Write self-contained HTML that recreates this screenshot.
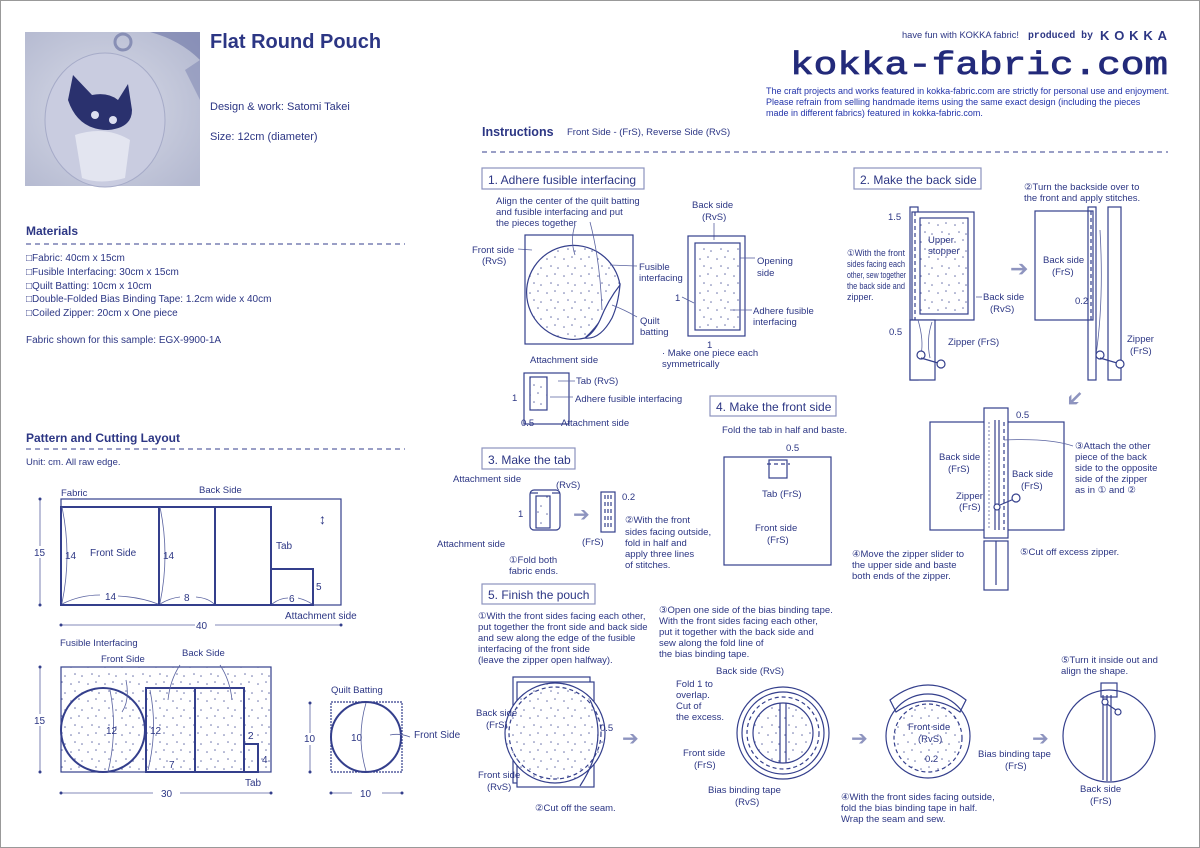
<!DOCTYPE html>
<html><head><meta charset="utf-8"><style>
html,body{margin:0;padding:0;background:#fff}
svg{display:block}
text{font-family:"Liberation Sans",sans-serif;fill:#2c3684}
.s{font-size:10px}
.m{font-size:11px}
.ln{stroke:#343f8c;fill:none;stroke-width:1.2}
.th{stroke:#343f8c;fill:none;stroke-width:2}
.lt{stroke:#5a63a0;fill:none;stroke-width:0.8}
.da{stroke:#343f8c;fill:none;stroke-width:1.2;stroke-dasharray:4 3}
.box{stroke:#8d93bd;fill:#fff;stroke-width:1.2}
.dt{fill:url(#dots)}
.wh{fill:#fff}
</style></head><body>
<svg width="1200" height="848" viewBox="0 0 1200 848" xmlns="http://www.w3.org/2000/svg">
<defs>
<pattern id="dots" width="17" height="17" patternUnits="userSpaceOnUse">
<rect width="17" height="17" fill="#fff"/><circle cx="3" cy="4" r="0.8" fill="#6a72aa"/><circle cx="11" cy="2" r="0.8" fill="#6a72aa"/><circle cx="7" cy="11" r="0.8" fill="#6a72aa"/><circle cx="14" cy="13" r="0.8" fill="#6a72aa"/>
</pattern>
<radialGradient id="ph" cx="0.45" cy="0.5" r="0.7"><stop offset="0" stop-color="#d8dbe8"/><stop offset="1" stop-color="#b4b9d0"/></radialGradient>
</defs>
<rect x="0.5" y="0.5" width="1199" height="847" fill="#fff" stroke="#999" stroke-width="1"/>

<!-- photo -->
<rect x="25" y="32" width="175" height="154" fill="url(#ph)"/>
<path d="M150 32 Q180 40 200 60 L200 32Z" fill="#6c74a6" opacity="0.6"/>
<path d="M185 70 Q195 90 200 100 L200 60Z" fill="#7a82b0" opacity="0.5"/>
<circle cx="123" cy="42" r="8" fill="none" stroke="#888fb5" stroke-width="3"/>
<ellipse cx="105" cy="120" rx="60" ry="67" fill="#c9cce0" stroke="#a6abc8"/>
<path d="M68 100 L73 75 L92 95 Q108 92 118 100 L128 84 L132 110 Q132 128 108 130 Q78 130 68 100Z" fill="#2a316e"/>
<circle cx="95" cy="115" r="4" fill="#dcdff0"/><circle cx="113" cy="120" r="4" fill="#dcdff0"/>
<path d="M75 135 Q105 125 130 140 L125 178 Q100 185 82 178Z" fill="#e3e5f0"/>

<text x="210" y="48" style="font-size:20px;font-weight:bold">Flat Round Pouch</text>
<text x="210" y="110" class="m">Design &amp; work: Satomi Takei</text>
<text x="210" y="140" class="m">Size: 12cm (diameter)</text>

<!-- header right -->
<text x="902" y="38" textLength="117" lengthAdjust="spacingAndGlyphs" style="font-size:9.5px">have fun with KOKKA fabric!</text>
<text x="1028" y="38" textLength="65" lengthAdjust="spacingAndGlyphs" style="font-size:10px;font-weight:bold;font-family:'Liberation Mono',monospace">produced by</text>
<text x="1100" y="40" textLength="67" lengthAdjust="spacing" style="font-size:13px;font-weight:bold">KOKKA</text>
<text x="790" y="74" textLength="378" lengthAdjust="spacingAndGlyphs" style="font-size:32px;font-family:'Liberation Mono',monospace;fill:#232a7a;stroke:#232a7a;stroke-width:0.8">kokka-fabric.com</text>
<text x="766" y="94" style="font-size:9px;fill:#2233aa">The craft projects and works featured in kokka-fabric.com are strictly for personal use and enjoyment.</text>
<text x="766" y="105" style="font-size:9px;fill:#2233aa">Please refrain from selling handmade items using the same exact design (including the pieces</text>
<text x="766" y="116" style="font-size:9px;fill:#2233aa">made in different fabrics) featured in kokka-fabric.com.</text>

<!-- Materials -->
<text x="26" y="235" style="font-size:12px;font-weight:bold">Materials</text>
<line x1="26" y1="244" x2="405" y2="244" stroke="#343f8c" stroke-dasharray="5 4"/>
<text x="26" y="261" class="s">□Fabric: 40cm x 15cm</text>
<text x="26" y="275" class="s">□Fusible Interfacing: 30cm x 15cm</text>
<text x="26" y="289" class="s">□Quilt Batting: 10cm x 10cm</text>
<text x="26" y="302" class="s">□Double-Folded Bias Binding Tape: 1.2cm wide x 40cm</text>
<text x="26" y="316" class="s">□Coiled Zipper: 20cm x One piece</text>
<text x="26" y="343" class="s">Fabric shown for this sample: EGX-9900-1A</text>

<text x="26" y="442" style="font-size:12px;font-weight:bold">Pattern and Cutting Layout</text>
<line x1="26" y1="449" x2="405" y2="449" stroke="#343f8c" stroke-dasharray="5 4"/>
<text x="26" y="465" style="font-size:9.5px">Unit: cm.  All raw edge.</text>

<!-- fabric layout -->
<text x="61" y="496" style="font-size:9.5px">Fabric</text>
<text x="199" y="493" style="font-size:9.5px">Back Side</text>
<rect x="61" y="499" width="280" height="106" class="ln"/>
<rect x="61" y="507" width="98" height="98" class="th"/>
<rect x="159" y="507" width="56" height="98" class="th"/>
<rect x="215" y="507" width="56" height="98" class="th"/>
<rect x="271" y="569" width="42" height="36" class="th"/>
<line x1="40" y1="499" x2="40" y2="605" class="lt"/><circle cx="40" cy="499" r="1.5" fill="#343f8c"/><circle cx="40" cy="605" r="1.5" fill="#343f8c"/>
<rect x="34" y="546" width="12" height="12" fill="#fff"/><text x="34" y="556" class="s">15</text>
<text x="65" y="559" class="s">14</text><text x="90" y="556" class="s">Front Side</text>
<text x="163" y="559" class="s">14</text>
<text x="276" y="549" class="s">Tab</text>
<text x="316" y="590" class="s">5</text>
<text x="105" y="600" class="s">14</text><text x="184" y="601" class="s">8</text><text x="289" y="602" class="s">6</text>
<text x="285" y="619" class="s">Attachment side</text>
<text x="319" y="524" style="font-size:14px">↕</text>
<path d="M62 507 Q72 555 62 603 M160 507 Q170 555 160 603 M62 604 Q80 595 100 595 M118 596 Q140 597 158 604 M160 604 Q170 598 180 597 M196 597 Q208 598 214 604 M272 604 Q280 598 288 598 M298 598 Q306 600 312 604" class="lt"/>
<line x1="61" y1="625" x2="195" y2="625" class="lt"/><line x1="215" y1="625" x2="341" y2="625" class="lt"/>
<circle cx="61" cy="625" r="1.5" fill="#343f8c"/><circle cx="341" cy="625" r="1.5" fill="#343f8c"/>
<text x="196" y="629" class="s">40</text>

<!-- fusible -->
<text x="60" y="646" style="font-size:9.5px">Fusible Interfacing</text>
<text x="101" y="662" style="font-size:9.5px">Front Side</text>
<text x="182" y="656" style="font-size:9.5px">Back Side</text>
<rect x="61" y="667" width="210" height="105" class="ln dt"/>
<circle cx="103" cy="730" r="42" class="th dt"/>
<rect x="146" y="688" width="49" height="84" class="th dt"/>
<rect x="195" y="688" width="49" height="84" class="th dt"/>
<rect x="244" y="744" width="14" height="28" class="th dt"/>
<path d="M110 690 Q118 730 108 772 M150 690 Q158 730 148 770 M126 680 Q130 700 122 712 M180 665 Q170 680 168 700 M220 665 Q230 680 232 700" class="lt"/>
<line x1="40" y1="667" x2="40" y2="772" class="lt"/><circle cx="40" cy="667" r="1.5" fill="#343f8c"/><circle cx="40" cy="772" r="1.5" fill="#343f8c"/>
<rect x="34" y="714" width="12" height="12" fill="#fff"/><text x="34" y="724" class="s">15</text>
<text x="106" y="734" class="s">12</text><text x="150" y="734" class="s">12</text>
<text x="169" y="768" class="s">7</text><text x="248" y="739" class="s">2</text><text x="262" y="763" class="s">4</text>
<text x="245" y="786" class="s">Tab</text>
<line x1="61" y1="793" x2="153" y2="793" class="lt"/><line x1="180" y1="793" x2="271" y2="793" class="lt"/>
<circle cx="61" cy="793" r="1.5" fill="#343f8c"/><circle cx="271" cy="793" r="1.5" fill="#343f8c"/>
<text x="161" y="797" class="s">30</text>

<!-- quilt batting -->
<text x="331" y="693" style="font-size:9.5px">Quilt Batting</text>
<rect x="331" y="702" width="71" height="70" class="ln" stroke-dasharray="2 1"/>
<circle cx="366" cy="737" r="35" class="th"/>
<path d="M366 703 Q356 737 366 771" class="lt"/>
<text x="351" y="741" class="s">10</text>
<line x1="310" y1="703" x2="310" y2="772" class="lt"/><circle cx="310" cy="703" r="1.5" fill="#343f8c"/><circle cx="310" cy="772" r="1.5" fill="#343f8c"/>
<rect x="303" y="733" width="14" height="12" fill="#fff"/><text x="304" y="742" class="s">10</text>
<path d="M390 735 Q400 733 410 737" class="lt"/><text x="414" y="738" class="s">Front Side</text>
<line x1="331" y1="793" x2="352" y2="793" class="lt"/><line x1="382" y1="793" x2="402" y2="793" class="lt"/>
<circle cx="331" cy="793" r="1.5" fill="#343f8c"/><circle cx="402" cy="793" r="1.5" fill="#343f8c"/>
<text x="360" y="797" class="s">10</text>

<!-- Instructions header -->
<text x="482" y="136" style="font-size:12.5px;font-weight:bold">Instructions</text>
<text x="567" y="135" style="font-size:9.5px">Front Side - (FrS), Reverse Side (RvS)</text>
<line x1="482" y1="152" x2="1168" y2="152" stroke="#343f8c" stroke-dasharray="5 4"/>

<!-- Step 1 -->
<rect x="482" y="168" width="162" height="21" class="box"/>
<text x="488" y="184" style="font-size:12px">1. Adhere fusible interfacing</text>
<text x="496" y="204" style="font-size:9.5px">Align the center of the quilt batting</text>
<text x="496" y="215" style="font-size:9.5px">and fusible interfacing and put</text>
<text x="496" y="226" style="font-size:9.5px">the pieces together</text>
<text x="472" y="253" style="font-size:9.5px">Front side</text><text x="482" y="264" style="font-size:9.5px">(RvS)</text>
<path d="M518 249 L532 250" class="lt"/>
<rect x="525" y="235" width="108" height="109" class="ln"/>
<path d="M620 285 A47 47 0 1 0 585 338 Q605 320 620 285Z" class="ln dt"/>
<path d="M620 285 Q608 300 600 320 Q594 333 585 338 Q600 340 612 318 Q618 305 620 285Z" class="ln wh"/>
<path d="M575 225 Q570 240 575 255 M590 222 Q600 260 602 310" class="lt"/>
<path d="M610 265 L637 266 M612 305 Q625 310 637 317" class="lt"/>
<text x="639" y="270" style="font-size:9.5px">Fusible</text><text x="639" y="281" style="font-size:9.5px">interfacing</text>
<text x="640" y="324" style="font-size:9.5px">Quilt</text><text x="640" y="335" style="font-size:9.5px">batting</text>

<text x="692" y="208" style="font-size:9.5px">Back side</text><text x="702" y="220" style="font-size:9.5px">(RvS)</text>
<line x1="714" y1="223" x2="714" y2="240" class="lt"/>
<rect x="688" y="236" width="57" height="100" class="ln"/>
<rect x="695" y="243" width="45" height="87" class="ln dt"/>
<path d="M740 258 L755 258" class="lt"/><text x="757" y="264" style="font-size:9.5px">Opening</text><text x="757" y="276" style="font-size:9.5px">side</text>
<path d="M730 310 L752 310" class="lt"/><text x="753" y="314" style="font-size:9.5px">Adhere fusible</text><text x="753" y="325" style="font-size:9.5px">interfacing</text>
<text x="675" y="301" style="font-size:9.5px">1</text><path d="M682 297 L694 303" class="lt"/>
<text x="707" y="348" style="font-size:9.5px">1</text>
<text x="662" y="356" style="font-size:9.5px">· Make one piece each</text><text x="662" y="367" style="font-size:9.5px">symmetrically</text>

<text x="530" y="363" style="font-size:9.5px">Attachment side</text>
<rect x="524" y="373" width="45" height="51" class="ln"/>
<rect x="530" y="377" width="17" height="33" class="ln dt"/>
<path d="M558 381 L575 381 M550 397 L573 397" class="lt"/>
<text x="576" y="384" style="font-size:9.5px">Tab (RvS)</text>
<text x="575" y="402" style="font-size:9.5px">Adhere fusible interfacing</text>
<text x="512" y="401" style="font-size:9.5px">1</text>
<text x="521" y="426" style="font-size:9.5px">0.5</text>
<text x="561" y="426" style="font-size:9.5px">Attachment side</text>

<!-- Step 2 -->
<rect x="854" y="168" width="127" height="21" class="box"/>
<text x="860" y="184" style="font-size:12px">2. Make the back side</text>
<rect x="910" y="207" width="8" height="173" class="ln"/>
<rect x="912" y="212" width="62" height="108" class="ln wh"/>
<rect x="920" y="218" width="48" height="96" class="ln dt"/>
<line x1="915" y1="212" x2="915" y2="320" class="da"/>
<rect x="910" y="320" width="25" height="60" class="ln wh"/>
<rect x="845" y="246" width="62" height="58" fill="#fff"/>
<text x="847" y="256" textLength="58" lengthAdjust="spacingAndGlyphs" style="font-size:9px">①With the front</text>
<text x="847" y="267" textLength="58" lengthAdjust="spacingAndGlyphs" style="font-size:9px">sides facing each</text>
<text x="847" y="278" textLength="59" lengthAdjust="spacingAndGlyphs" style="font-size:9px">other, sew together</text>
<text x="847" y="289" textLength="58" lengthAdjust="spacingAndGlyphs" style="font-size:9px">the back side and</text>
<text x="847" y="300" style="font-size:9px">zipper.</text>
<path d="M918 320 Q924 340 921 355 M932 322 Q926 340 930 358" class="lt"/>
<circle cx="921" cy="355" r="4" class="ln wh"/><line x1="921" y1="358" x2="938" y2="363" class="ln"/><circle cx="941" cy="364" r="4" class="ln wh"/>
<text x="888" y="220" style="font-size:9.5px">1.5</text>
<text x="928" y="243" style="font-size:9.5px">Upper</text><text x="928" y="254" style="font-size:9.5px">stopper</text>
<path d="M976 297 L982 297" class="lt"/><text x="983" y="300" style="font-size:9.5px">Back side</text><text x="990" y="312" style="font-size:9.5px">(RvS)</text>
<text x="889" y="335" style="font-size:9.5px">0.5</text>
<text x="948" y="345" style="font-size:9.5px">Zipper (FrS)</text>
<text x="1010" y="276" style="font-size:22px;fill:#8e94bf">➔</text>
<text x="1024" y="190" style="font-size:9.5px">②Turn the backside over to</text>
<text x="1024" y="201" style="font-size:9.5px">the front and apply stitches.</text>
<rect x="1035" y="211" width="58" height="109" class="ln"/>
<line x1="1091" y1="211" x2="1091" y2="320" class="da"/>
<rect x="1088" y="207" width="8" height="173" class="ln"/>
<rect x="1108" y="207" width="13" height="173" class="ln"/>
<path d="M1100 230 Q1104 300 1096 355" class="lt"/>
<circle cx="1100" cy="355" r="4" class="ln wh"/><line x1="1100" y1="358" x2="1117" y2="363" class="ln"/><circle cx="1120" cy="364" r="4" class="ln wh"/>
<text x="1043" y="263" style="font-size:9.5px">Back side</text><text x="1052" y="275" style="font-size:9.5px">(FrS)</text>
<text x="1075" y="304" style="font-size:9.5px">0.2</text>
<text x="1127" y="342" style="font-size:9.5px">Zipper</text><text x="1130" y="354" style="font-size:9.5px">(FrS)</text>
<text x="1065" y="408" style="font-size:22px;fill:#8e94bf" transform="rotate(135 1075 400)">➔</text>

<rect x="930" y="422" width="134" height="108" class="ln"/>
<rect x="984" y="408" width="24" height="130" class="ln wh"/>
<line x1="995" y1="420" x2="995" y2="530" class="ln"/><line x1="999" y1="420" x2="999" y2="530" class="ln"/>
<line x1="989" y1="422" x2="989" y2="530" class="lt" stroke-dasharray="2 2"/><line x1="1004" y1="422" x2="1004" y2="530" class="da"/>
<rect x="984" y="541" width="24" height="49" class="ln"/><line x1="996" y1="541" x2="996" y2="585" class="ln"/>
<circle cx="997" cy="507" r="3" class="ln wh"/><line x1="1000" y1="505" x2="1014" y2="499" class="ln"/><circle cx="1016" cy="498" r="4" class="ln wh"/>
<text x="1016" y="418" style="font-size:9.5px">0.5</text>
<text x="939" y="460" style="font-size:9.5px">Back side</text><text x="948" y="472" style="font-size:9.5px">(FrS)</text>
<text x="1012" y="477" style="font-size:9.5px">Back side</text><text x="1021" y="489" style="font-size:9.5px">(FrS)</text>
<text x="956" y="499" style="font-size:9.5px">Zipper</text><text x="959" y="510" style="font-size:9.5px">(FrS)</text>
<path d="M1004 440 Q1050 438 1073 446" class="lt"/>
<text x="1075" y="449" style="font-size:9.5px">③Attach the other</text>
<text x="1075" y="460" style="font-size:9.5px">piece of the back</text>
<text x="1075" y="471" style="font-size:9.5px">side to the opposite</text>
<text x="1075" y="482" style="font-size:9.5px">side of the zipper</text>
<text x="1075" y="493" style="font-size:9.5px">as in ① and ②</text>
<text x="852" y="557" style="font-size:9.5px">④Move the zipper slider to</text>
<text x="852" y="568" style="font-size:9.5px">the upper side and baste</text>
<text x="852" y="579" style="font-size:9.5px">both ends of the zipper.</text>
<text x="1020" y="555" style="font-size:9.5px">⑤Cut off excess zipper.</text>

<!-- Step 4 -->
<rect x="710" y="396" width="126" height="20" class="box"/>
<text x="716" y="411" style="font-size:12px">4. Make the front side</text>
<text x="722" y="433" style="font-size:9.5px">Fold the tab in half and baste.</text>
<text x="786" y="451" style="font-size:9.5px">0.5</text>
<rect x="724" y="457" width="107" height="108" class="ln"/>
<rect x="769" y="460" width="18" height="18" class="ln"/>
<line x1="767" y1="464" x2="790" y2="464" class="da"/>
<text x="762" y="497" style="font-size:9.5px">Tab (FrS)</text>
<text x="755" y="531" style="font-size:9.5px">Front side</text><text x="767" y="543" style="font-size:9.5px">(FrS)</text>

<!-- Step 3 -->
<rect x="482" y="448" width="93" height="21" class="box"/>
<text x="488" y="464" style="font-size:12px">3. Make the tab</text>
<text x="453" y="482" style="font-size:9.5px">Attachment side</text>
<text x="556" y="488" style="font-size:9.5px">(RvS)</text>
<rect x="530" y="490" width="30" height="40" rx="4" class="ln"/>
<rect x="536" y="496" width="14" height="32" class="ln dt"/>
<line x1="530" y1="493" x2="538" y2="493" class="ln"/><line x1="552" y1="493" x2="560" y2="493" class="ln"/>
<text x="518" y="517" style="font-size:9.5px">1</text>
<text x="437" y="547" style="font-size:9.5px">Attachment side</text>
<text x="509" y="563" style="font-size:9.5px">①Fold both</text><text x="509" y="574" style="font-size:9.5px">fabric ends.</text>
<text x="573" y="521" style="font-size:20px;fill:#8e94bf">➔</text>
<rect x="601" y="492" width="14" height="40" class="ln"/>
<line x1="605" y1="495" x2="605" y2="530" class="da" stroke-dasharray="2 1.5"/><line x1="608" y1="495" x2="608" y2="530" class="da" stroke-dasharray="2 1.5"/><line x1="611" y1="495" x2="611" y2="530" class="da" stroke-dasharray="2 1.5"/>
<text x="622" y="500" style="font-size:9.5px">0.2</text>
<text x="582" y="545" style="font-size:9.5px">(FrS)</text>
<text x="625" y="523" style="font-size:9.5px">②With the front</text>
<text x="625" y="535" style="font-size:9.5px">sides facing outside,</text>
<text x="625" y="546" style="font-size:9.5px">fold in half and</text>
<text x="625" y="557" style="font-size:9.5px">apply three lines</text>
<text x="625" y="568" style="font-size:9.5px">of stitches.</text>

<!-- Step 5 -->
<rect x="482" y="584" width="113" height="20" class="box"/>
<text x="488" y="599" style="font-size:12px">5. Finish the pouch</text>
<text x="478" y="619" style="font-size:9.5px">①With the front sides facing each other,</text>
<text x="478" y="630" style="font-size:9.5px">put together the front side and back side</text>
<text x="478" y="641" style="font-size:9.5px">and sew along the edge of the fusible</text>
<text x="478" y="652" style="font-size:9.5px">interfacing of the front side</text>
<text x="478" y="663" style="font-size:9.5px">(leave the zipper open halfway).</text>
<rect x="513" y="677" width="77" height="106" class="ln"/>
<rect x="517" y="682" width="77" height="105" class="ln wh"/>
<circle cx="555" cy="733" r="50" class="ln dt"/>
<circle cx="555" cy="733" r="46" class="da"/>
<path d="M590 700 Q610 740 580 786" class="ln"/>
<text x="476" y="716" style="font-size:9.5px">Back side</text><text x="486" y="728" style="font-size:9.5px">(FrS)</text>
<text x="478" y="778" style="font-size:9.5px">Front side</text><text x="487" y="790" style="font-size:9.5px">(RvS)</text>
<text x="600" y="731" style="font-size:9.5px">0.5</text>
<text x="535" y="811" style="font-size:9.5px">②Cut off the seam.</text>
<text x="622" y="745" style="font-size:20px;fill:#8e94bf">➔</text>

<text x="659" y="613" style="font-size:9.5px">③Open one side of the bias binding tape.</text>
<text x="659" y="624" style="font-size:9.5px">With the front sides facing each other,</text>
<text x="659" y="635" style="font-size:9.5px">put it together with the back side and</text>
<text x="659" y="646" style="font-size:9.5px">sew along the fold line of</text>
<text x="659" y="657" style="font-size:9.5px">the bias binding tape.</text>
<text x="676" y="687" style="font-size:9.5px">Fold 1 to</text><text x="676" y="698" style="font-size:9.5px">overlap.</text>
<text x="676" y="709" style="font-size:9.5px">Cut of</text><text x="676" y="720" style="font-size:9.5px">the excess.</text>
<text x="716" y="674" style="font-size:9.5px">Back side (RvS)</text>
<circle cx="783" cy="733" r="46" class="ln"/>
<circle cx="783" cy="733" r="41" class="ln"/>
<circle cx="783" cy="733" r="36" class="da"/>
<circle cx="783" cy="733" r="30" class="ln dt"/>
<line x1="780" y1="703" x2="780" y2="763" class="ln"/><line x1="786" y1="703" x2="786" y2="763" class="ln"/>
<text x="683" y="756" style="font-size:9.5px">Front side</text><text x="694" y="768" style="font-size:9.5px">(FrS)</text>
<text x="708" y="793" style="font-size:9.5px">Bias binding tape</text><text x="735" y="805" style="font-size:9.5px">(RvS)</text>
<text x="851" y="745" style="font-size:20px;fill:#8e94bf">➔</text>

<path d="M890 700 Q928 670 966 700 L960 712 Q928 690 896 712Z" class="ln"/>
<circle cx="928" cy="736" r="42" class="ln"/>
<circle cx="928" cy="738" r="34" class="da dt"/>
<text x="908" y="730" style="font-size:9.5px">Front side</text><text x="918" y="742" style="font-size:9.5px">(RvS)</text>
<text x="925" y="762" style="font-size:9.5px">0.2</text>
<text x="978" y="757" style="font-size:9.5px">Bias binding tape</text><text x="1005" y="769" style="font-size:9.5px">(FrS)</text>
<text x="841" y="800" style="font-size:9.5px">④With the front sides facing outside,</text>
<text x="841" y="811" style="font-size:9.5px">fold the bias binding tape in half.</text>
<text x="841" y="822" style="font-size:9.5px">Wrap the seam and sew.</text>
<text x="1032" y="745" style="font-size:20px;fill:#8e94bf">➔</text>

<text x="1061" y="663" style="font-size:9.5px">⑤Turn it inside out and</text>
<text x="1061" y="674" style="font-size:9.5px">align the shape.</text>
<rect x="1101" y="683" width="16" height="14" class="ln"/>
<circle cx="1109" cy="736" r="46" class="ln"/>
<line x1="1103" y1="695" x2="1103" y2="780" class="ln"/><line x1="1107" y1="695" x2="1107" y2="781" class="ln"/><line x1="1111" y1="695" x2="1111" y2="781" class="ln"/>
<circle cx="1105" cy="702" r="3" class="ln wh"/><line x1="1107" y1="704" x2="1116" y2="710" class="ln"/><circle cx="1118" cy="712" r="3" class="ln wh"/>
<text x="1080" y="792" style="font-size:9.5px">Back side</text><text x="1090" y="804" style="font-size:9.5px">(FrS)</text>
</svg>
</body></html>
